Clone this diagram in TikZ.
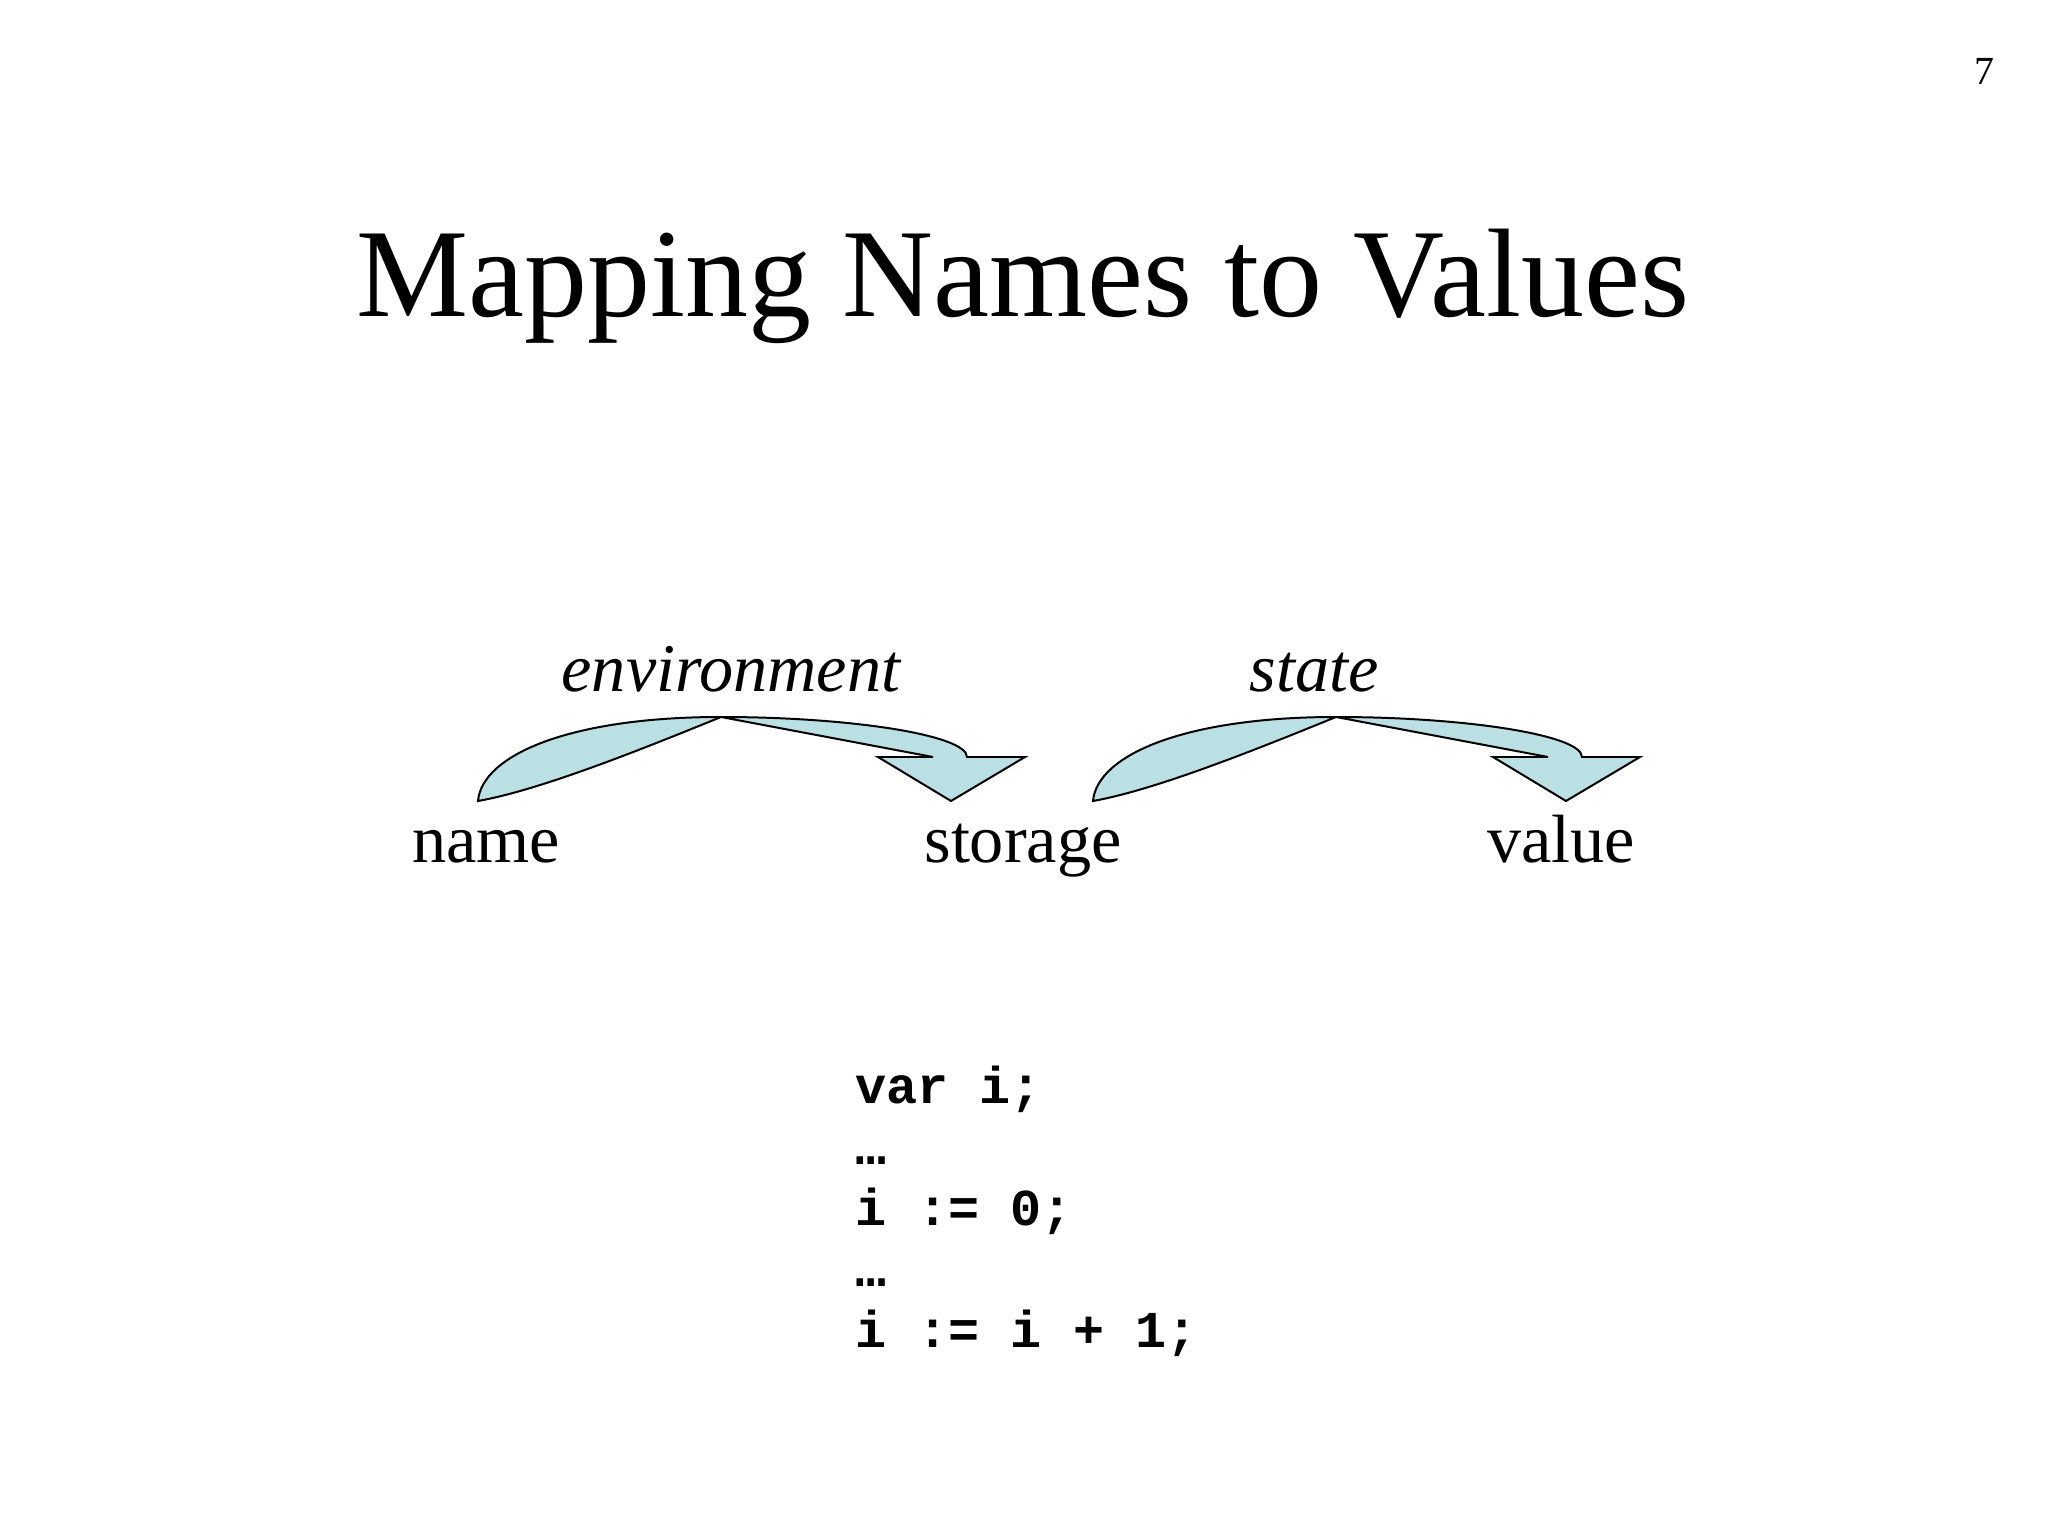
\documentclass[tikz,border=0pt]{standalone}
\usepackage{fontspec}
\setmainfont{Liberation Serif}
\newfontfamily\codefont{Liberation Mono}
\usepackage{tikz}

\definecolor{arrowfill}{RGB}{187,224,227}

\tikzset{
  blockarrow/.style={fill=arrowfill, draw=black, line width=0.7pt, line join=miter},
  word/.style={inner sep=0pt, anchor=base, font=\fontsize{24}{28}\selectfont},
  mapname/.style={word, font=\fontsize{24}{28}\selectfont\itshape},
  codeline/.style={inner sep=0pt, anchor=base west, font=\fontsize{18.2}{22}\selectfont\codefont\bfseries}
}

\begin{document}
\begin{tikzpicture}[x=0.3515625pt, y=-0.3515625pt]
  \useasboundingbox (0,0) rectangle (2048,1536);

  \node[inner sep=0pt, anchor=base, font=\fontsize{14}{16}\selectfont] (pagenum) at (1984,85) {7};
  \node[inner sep=0pt, anchor=base, font=\fontsize{44.3}{52}\selectfont] (title) at (1023,317) {Mapping Names to Values};

  % the two curved block arrows
  \foreach \dx in {0,615} {
  \begin{scope}[shift={(\dx,0)}]
  \filldraw[blockarrow] (478,801) .. controls (482,755) and (570,717) .. (721,717)
    .. controls (850,717) and (967,735) .. (967,757)
    -- (1025,757) -- (951,801) -- (878,757) -- (933,757)
    -- (721,717) .. controls (640,750) and (540,790) .. (478,801) -- cycle;
  \end{scope}
  }

  \node[mapname] (env) at (731,692) {environment};
  \node[mapname] (state) at (1314,692) {state};

  \node[word] (name) at (486,862) {name};
  \node[word] (storage) at (1023,862) {storage};
  \node[word] (value) at (1561,862) {value};

  % code
  \node[codeline] (code1) at (855,1103) {var i;};
  \node[codeline] (code2) at (855,1164) {…};
  \node[codeline] (code3) at (855,1225) {i := 0;};
  \node[codeline] (code4) at (855,1286) {…};
  \node[codeline] (code5) at (855,1347) {i := i + 1;};
\end{tikzpicture}
\end{document}
